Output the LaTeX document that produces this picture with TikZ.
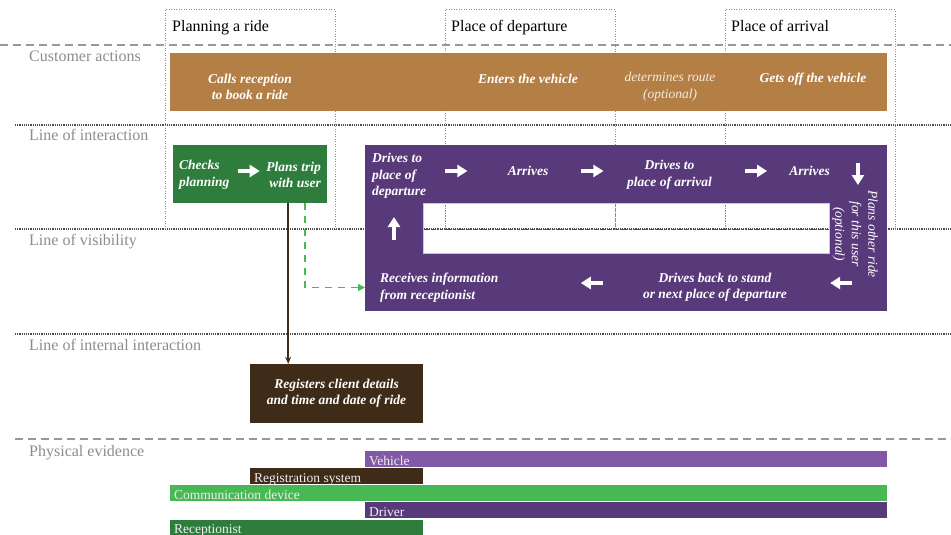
\documentclass[tikz,border=0pt]{standalone}
\usepackage{fontspec}
\setmainfont{Liberation Serif}
\usetikzlibrary{arrows.meta,calc}

\definecolor{custbrown}{HTML}{B47F45}
\definecolor{staffgreen}{HTML}{2E7D3D}
\definecolor{drivepurple}{HTML}{583A7A}
\definecolor{backbrown}{HTML}{3F2C18}
\definecolor{vehiclepurple}{HTML}{8259A6}
\definecolor{devicegreen}{HTML}{47B853}
\definecolor{lanegray}{HTML}{8C8C8C}

\tikzset{
  lane/.style={anchor=base west, text=lanegray, font=\fontsize{16}{19}\selectfont, inner sep=0},
  phase/.style={anchor=base west, font=\fontsize{16}{19}\selectfont, inner sep=0},
  act/.style={text=white, font=\fontsize{13.5}{16.5}\selectfont\bfseries\itshape, inner sep=0, align=center},
  note/.style={font=\fontsize{13.5}{16.5}\selectfont\itshape, inner sep=0, align=center},
  flow/.style={draw=white, line width=3.5pt, -{Triangle[length=10pt,width=12pt]}},
  bartext/.style={anchor=base west, text=white!94!black, font=\fontsize{13.5}{15}\selectfont, inner sep=0},
  dashline/.style={draw=black!40, line width=1.4pt, dash pattern=on 8pt off 5pt},
  dotline/.style={draw=black!70, line width=1.3pt, dash pattern=on 1.2pt off 1pt},
  phaseline/.style={draw=black!45, line width=1pt, dash pattern=on 1pt off 1.5pt},
}

\begin{document}
\begin{tikzpicture}[x=1pt,y=-1pt]
    \useasboundingbox (0,0) rectangle (951,535);

    % lines between the lanes
    \draw[dashline] (0,45) -- (951,45);
    \draw[dotline] (15,125) -- (951,125);
    \draw[dotline] (15,229) -- (951,229);
    \draw[dotline] (15,334) -- (951,334);
    \draw[dashline] (15,439) -- (951,439);

    % phases
    \draw[phaseline] (165,229) -- (165,10) -- (335,10) -- (335,229);
    \draw[phaseline] (445,229) -- (445,10) -- (615,10) -- (615,229);
    \draw[phaseline] (725,229) -- (725,10) -- (895,10) -- (895,229);
    \node[phase] (planning) at (172,32) {Planning a ride};
    \node[phase] (departure) at (451,32) {Place of departure};
    \node[phase] (arrival) at (731,32) {Place of arrival};

    \node[lane] (customer) at (29,62) {Customer actions};
    \node[lane] (interaction) at (29,140) {Line of interaction};
    \node[lane] (visibility) at (29,245) {Line of visibility};
    \node[lane] (internal) at (29,350) {Line of internal interaction};
    \node[lane] (evidence) at (29,456) {Physical evidence};

    % customer actions
    \fill[custbrown] (170,53) rectangle (887,111);
    \node[act] (calls) at (250,87) {Calls reception\\to book a ride};
    \node[act] (enters) at (528,79) {Enters the vehicle};
    \node[note, text=white!85!custbrown] (route) at (670,87) {determines route\\(optional)};
    \node[act] (getsoff) at (813,79) {Gets off the vehicle};

    % receptionist
    \node[fill=staffgreen, minimum width=154pt, minimum height=58pt, anchor=north west, inner sep=0] (planbox) at (173,145) {};
    \node[act, align=left, anchor=west] (checks) at (179,175) {Checks\\planning};
    \node[act, align=right, anchor=east] (plantrip) at (321,175) {Plans trip\\with user};
    \draw[flow] ($(checks.east)+(8,-4)$) -- +(22,0);

    % driver
    \fill[drivepurple] (365,145) rectangle (887,203);
    \fill[drivepurple] (365,253) rectangle (887,311);
    \fill[drivepurple] (365,145) rectangle (423,311);
    \fill[drivepurple] (829,145) rectangle (887,311);
    \node[minimum width=522pt, minimum height=166pt, anchor=north west, inner sep=0] (drive) at (365,145) {};

    \node[act, align=left, anchor=west] (todeparture) at (372,176) {Drives to\\place of\\departure};
    \node[act] (arrives) at (528,171) {Arrives};
    \node[act] (toarrival) at (669.5,175) {Drives to\\place of arrival};
    \node[act] (arrivesagain) at (809.5,171) {Arrives};
    \node[note, text=white, rotate=-90] (otherride) at (855,234) {Plans other ride\\for this user\\(optional)};
    \node[act] (driveback) at (715,287.5) {Drives back to stand\\or next place of departure};
    \node[act, align=left, anchor=west] (receives) at (380,287.5) {Receives information\\from receptionist};

    \draw[flow] ($(todeparture.east)+(19,-5)$) -- +(22,0);
    \draw[flow] ($(arrives.east)+(33,0)$) -- +(22,0);
    \draw[flow] ($(toarrival.east)+(33,-4)$) -- +(22,0);
    \draw[flow] ($(arrivesagain.east)+(28,-8)$) -- +(0,22);
    \draw[flow] ($(driveback.east)+(65,-4.5)$) -- +(-22,0);
    \draw[flow] ($(driveback.west)+(-40,-4.5)$) -- +(-22,0);
    \draw[flow] ($(receives.west)+(14,-47.5)$) -- +(0,-23);

    % back office
    \node[act, fill=backbrown, minimum width=173pt, minimum height=59pt] (registers) at (336.5,393.5) {Registers client details\\and time and date of ride};

    \coordinate (tripout) at ($(planbox.south)+(38,0)$);
    \coordinate (infoout) at ($(planbox.south)+(55,0)$);
    \draw[backbrown, line width=2pt, -{Stealth[length=7pt,width=6pt]}] (tripout) -- (tripout |- registers.north);
    \draw[devicegreen, line width=1.6pt, dash pattern=on 7pt off 6pt, -{Triangle[length=7pt,width=7pt]}] (infoout) |- (receives.west -| drive.west);

    % physical evidence
    \fill[vehiclepurple] (365,451) rectangle (887,467);
    \node[bartext] (vehicle) at (369,465) {Vehicle};
    \fill[backbrown] (250,468) rectangle (423,484);
    \node[bartext] (system) at (254,482) {Registration system};
    \fill[devicegreen] (170,485) rectangle (887,501);
    \node[bartext] (device) at (174,499) {Communication device};
    \fill[drivepurple] (365,502) rectangle (887,518);
    \node[bartext] (driver) at (369,516) {Driver};
    \fill[staffgreen] (170,520) rectangle (423,536);
    \node[bartext] (receptionist) at (174,533) {Receptionist};

    % lines seen through the gap of the driver band
    \begin{scope}
        \clip (423,203) rectangle (829,253);
        \draw[dotline, line width=1.6pt, dash pattern=on 2pt off 1.2pt] (15,229.5) -- (951,229.5);
        \draw[phaseline] (445,10) -- (445,229);
        \draw[phaseline] (615,10) -- (615,229);
        \draw[phaseline] (725,10) -- (725,229);
    \end{scope}
    \draw[draw=drivepurple!30!white, line width=0.8pt] (423,203) rectangle (829,253);
\end{tikzpicture}
\end{document}
